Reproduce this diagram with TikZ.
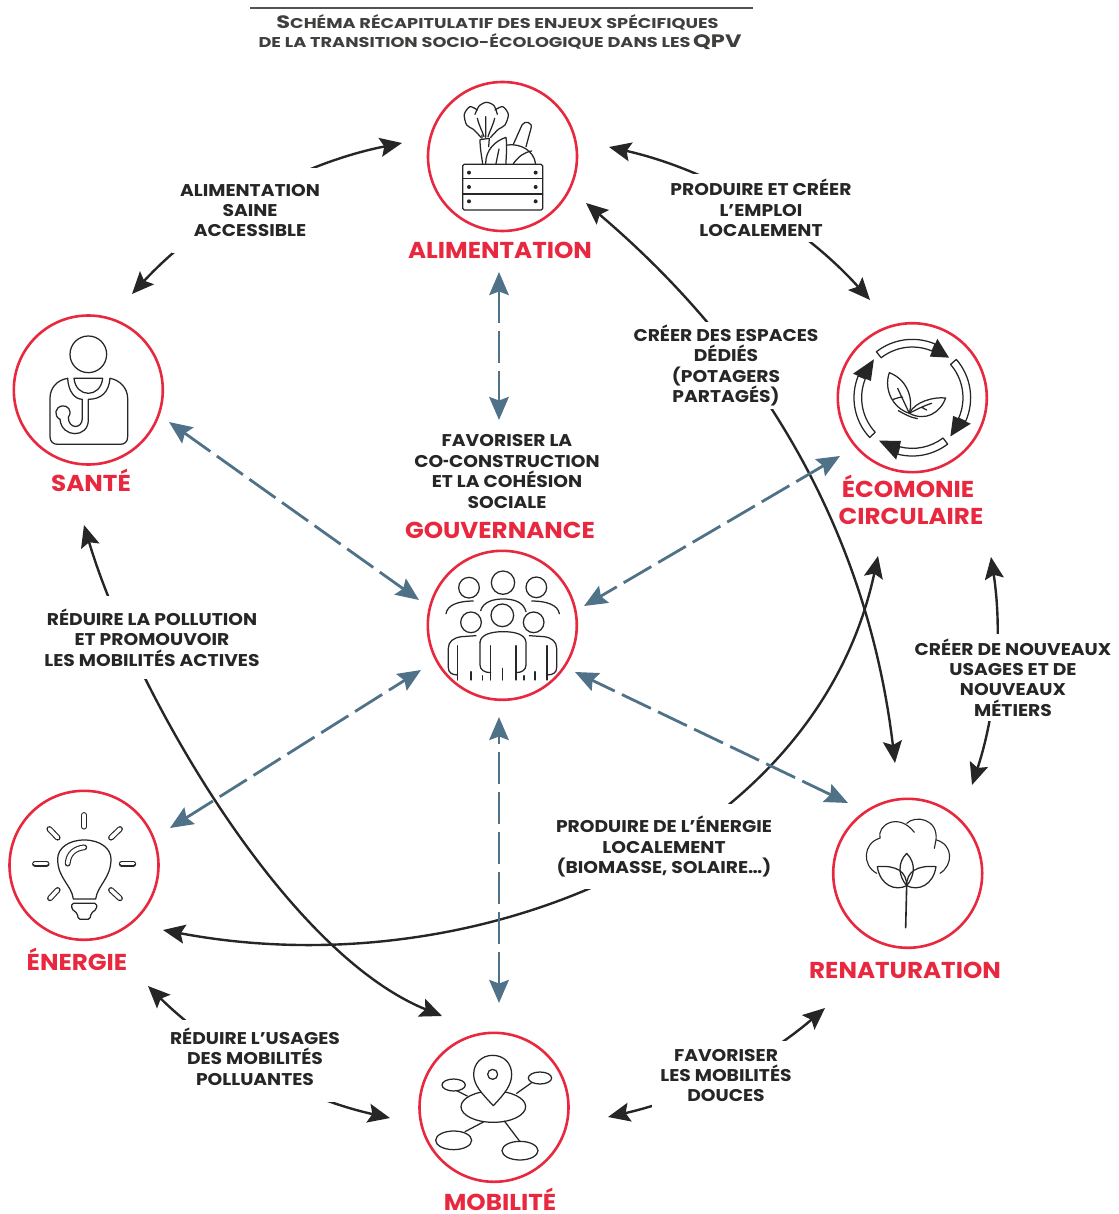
\documentclass[tikz,border=0pt]{standalone}
\usepackage{fontspec}
\setmainfont{Poppins}[FakeStretch=1.07]
\newfontfamily\titlefont{Poppins}[FakeStretch=1.25]
\newfontfamily\labfont{Poppins}[FakeStretch=1.10]
\usetikzlibrary{arrows.meta,calc}
\definecolor{ringred}{HTML}{E8283F}
\definecolor{inkc}{HTML}{262626}
\definecolor{bluec}{HTML}{4F7288}
\definecolor{titlec}{HTML}{3F3F3E}
\tikzset{
  ring/.style={circle,draw=ringred,line width=2.6pt,minimum size=149pt,inner sep=0pt,fill=white},
  lab/.style={align=center,text=inkc,fill=white,inner xsep=8pt,inner ysep=12pt,font=\labfont\bfseries\fontsize{17}{20.4}\selectfont},
  headlab/.style={text=ringred,align=center,inner sep=0pt,anchor=base,font=\bfseries\fontsize{23}{27}\selectfont},
  titlet/.style={text=titlec,inner sep=0pt,anchor=base,font=\titlefont\bfseries},
  blk/.style={draw=inkc,line width=2.4pt,{Stealth[length=22pt,width=19pt,inset=4pt]}-{Stealth[length=22pt,width=19pt,inset=4pt]}},
  bluedash/.style={draw=bluec,line width=2.8pt,dash pattern=on 32pt off 8pt,{Stealth[length=23pt,width=19.5pt,inset=3.5pt]}-{Stealth[length=23pt,width=19.5pt,inset=3.5pt]}},
  arcb/.style={bend left=#1,looseness=.87},
  ico/.style={draw=inkc,line width=1.25pt,line join=round,line cap=round},
  capsule/.style={ico,double=white,double distance=3.6pt,line width=1.1pt}
}
\newcommand{\ST}[1]{{\fontsize{18}{20}\selectfont #1}}
\newcommand{\TT}[1]{{\fontsize{14.2}{20}\selectfont #1}}
\newcommand{\shorthy}{\scalebox{.55}[1]{-}}
\newcommand{\ecoarrow}[3]{%
  \draw[ico,fill=white] (#1:152) arc[start angle=#1,end angle=#2,radius=152] -- (#2:175) arc[start angle=#2,end angle=#1,radius=175] -- cycle;
  \fill[inkc] (#2:134) -- (#2:192) -- (#3:163) -- cycle;
}
\begin{document}
\begin{tikzpicture}[x=1pt,y=-1pt]
\useasboundingbox (0,0) rectangle (1118,1214);
% circles (drawn first so anchors exist)
\node[ring] (alim) at (502.5,156.5) {};
\node[ring] (sante) at (88.3,390) {};
\node[ring] (eco) at (912.3,397.7) {};
\node[ring] (gouv) at (502.3,625.3) {};
\node[ring] (ener) at (84,865.3) {};
\node[ring] (renat) at (907.7,873.3) {};
\node[ring] (mob) at (494,1107.3) {};
% ring arcs
\draw[blk] ($(sante)+(43.7,-96)$) to[arcb=18] ($(alim)+(-100.5,-13.5)$);
\draw[blk] ($(alim)+(106.5,-9.5)$) to[arcb=17.7] ($(eco)+(-42.3,-97.7)$);
\draw[blk] ($(eco)+(78.7,159.3)$) to[arcb=13.5] ($(renat)+(64.3,-88.3)$);
\draw[blk] ($(renat)+(-82.7,134.7)$) to[arcb=14] ($(mob)+(114,9.7)$);
\draw[blk] ($(mob)+(-104,10.7)$) to[arcb=16] ($(ener)+(64,120.7)$);
% long curves
\draw[blk] ($(alim)+(83.5,46.5)$) .. controls (700,300) and (860,470) .. ($(renat)+(-12.7,-110.3)$);
\draw[blk] ($(sante)+(-4.3,135)$) .. controls (130,680) and (280,950) .. ($(mob)+(-52,-91.3)$);
\draw[blk] ($(eco)+(-34.3,158.3)$) .. controls (815,850) and (470,988) .. ($(ener)+(79,64.7)$);
% dashed
\draw[bluedash] ($(alim)+(-3.5,115.5)$) -- ($(gouv)+(-3.3,-205.3)$);
\draw[bluedash] ($(sante)+(80.7,32)$) -- ($(gouv)+(-83.3,-25.3)$);
\draw[bluedash] ($(eco)+(-72.3,58.3)$) -- ($(gouv)+(81.7,-19.3)$);
\draw[bluedash] ($(ener)+(86,-37.3)$) -- ($(gouv)+(-81.3,44.7)$);
\draw[bluedash] ($(renat)+(-59.7,-70.3)$) -- ($(gouv)+(72.7,46.7)$);
\draw[bluedash] ($(mob)+(5,-104.3)$) -- ($(gouv)+(-3.3,91.7)$);
% title
\draw[titlec!90!white,line width=2.8pt] (250,8) -- (753,8);
\node[titlet] (t1) at (497.5,28.5) {\ST{S}\TT{CHÉMA RÉCAPITULATIF DES ENJEUX SPÉCIFIQUES}};
\node[titlet] (t2) at (500,47.5) {\TT{DE LA TRANSITION SOCIO-ÉCOLOGIQUE DANS LES} \ST{QPV}};
% labels
\node[lab,inner ysep=16pt] (l1) at (250,210.5) {ALIMENTATION\\SAINE\\ACCESSIBLE};
\node[lab,inner ysep=5pt] (l2) at (761,208) {PRODUIRE ET CRÉER\\L’EMPLOI\\LOCALEMENT};
\node[lab,inner ysep=3pt] (l3) at (726,365.5) {CRÉER DES ESPACES\\DÉDIÉS\\(POTAGERS\\PARTAGÉS)};
\node[lab,fill=none,inner ysep=3pt] (l4) at (507,471.5) {FAVORISER LA\\CO\shorthy CONSTRUCTION\\ET LA COHÉSION\\SOCIALE};
\node[lab,inner ysep=5pt] (l5) at (1013,677.5) {CRÉER DE NOUVEAUX\\USAGES ET DE\\NOUVEAUX\\MÉTIERS};
\node[lab,inner ysep=13pt] (l6) at (152,637.5) {RÉDUIRE LA POLLUTION\\ET PROMOUVOIR\\LES MOBILITÉS ACTIVES};
\node[lab] (l7) at (664,846.5) {PRODUIRE DE L’ÉNERGIE\\LOCALEMENT\\(BIOMASSE, SOLAIRE…)};
\node[lab,inner ysep=8pt] (l8) at (255,1061) {RÉDUIRE L’USAGES\\DES MOBILITÉS\\POLLUANTES\rule[-9pt]{0pt}{9pt}};
\node[lab,inner ysep=8pt] (l9) at (726,1075.5) {FAVORISER\\LES MOBILITÉS\\DOUCES};
% heads
\node[headlab] (h1) at (500,259) {ALIMENTATION};
\node[headlab] (h2) at (91,491) {SANTÉ};
\node[headlab] (h3a) at (908,497) {ÉCOMONIE};
\node[headlab] (h3b) at (911,524) {CIRCULAIRE};
\node[headlab] (h4) at (500,538) {GOUVERNANCE};
\node[headlab] (h5) at (77,970) {ÉNERGIE};
\node[headlab] (h6) at (905,978) {RENATURATION};
\node[headlab] (h7) at (500,1210) {MOBILITÉ};
% --- icon: alimentation
\begin{scope}[shift={(420,75)},x=.3333pt,y=-.3333pt]
\draw[ico,rounded corners=1.5pt] (128,268) rectangle (368,405);
\draw[ico] (128,311) -- (368,311) (128,357) -- (368,357);
\foreach \yy in {293,336,379}{\fill[inkc] (147,\yy) circle (6) (347,\yy) circle (6);}
\draw[ico] plot[smooth] coordinates {(183,187) (160,163) (140,150) (133,118) (150,95) (172,105)};
\draw[ico] plot[smooth] coordinates {(165,118) (178,92) (200,82) (222,92) (232,118)};
\draw[ico] plot[smooth] coordinates {(225,105) (248,95) (265,118) (255,150) (235,163) (212,187)};
\draw[ico] (197,125) -- (197,187) (172,130) .. controls (178,155) and (188,170) .. (192,185) (224,130) .. controls (218,155) and (208,170) .. (204,185);
\draw[ico] (180,194) -- (208,190) (180,194) .. controls (180,220) and (185,245) .. (188,266) (208,190) -- (206,215);
\draw[ico] (197,266) .. controls (197,225) and (225,198) .. (258,187) .. controls (262,220) and (258,245) .. (258,266);
\draw[ico] (237,222) -- (228,266) (186,180) -- (186,190);
\draw[ico] (280,208) -- (306,150) .. controls (313,135) and (340,142) .. (333,160) -- (318,215);
\draw[ico] (262,210) .. controls (300,205) and (342,225) .. (347,268);
\draw[ico] (280,266) .. controls (295,245) and (312,232) .. (335,228);
\end{scope}
% --- icon: sante
\begin{scope}[shift={(5,310)},x=.3333pt,y=-.3333pt]
\draw[ico] (250,133) circle (55);
\draw[ico] (188,205) .. controls (155,210) and (135,235) .. (135,265) -- (135,380) .. controls (135,395) and (145,403) .. (158,403) -- (345,403) .. controls (360,403) and (368,395) .. (368,380) -- (368,265) .. controls (368,235) and (345,210) .. (315,205);
\draw[ico] (207,205) -- (293,205) .. controls (290,235) and (270,250) .. (250,250) .. controls (230,250) and (210,235) .. (207,205);
\draw[ico] (188,205) .. controls (190,245) and (210,268) .. (232,268) -- (232,325) .. controls (232,358) and (190,358) .. (190,322);
\draw[ico] (315,205) .. controls (312,245) and (290,268) .. (250,268) -- (250,330) .. controls (250,385) and (170,385) .. (165,328);
\draw[ico] (190,322) .. controls (205,300) and (185,285) .. (172,288) .. controls (150,290) and (145,318) .. (165,328);
\end{scope}
% --- icon: economie
\begin{scope}[shift={(912.3,397.7)},x=.3333pt,y=.3333pt]
\ecoarrow{128}{67}{47.5}
\ecoarrow{41}{-24}{-45.5}
\ecoarrow{-52.7}{-104.6}{-127.8}
\ecoarrow{223}{158}{135}
\end{scope}
\begin{scope}[shift={(830,320)},x=.3333pt,y=-.3333pt]
\draw[ico] (178,158) .. controls (160,210) and (190,265) .. (238,280) .. controls (250,240) and (235,180) .. (178,158);
\draw[ico] (238,280) .. controls (255,245) and (310,230) .. (347,234) .. controls (330,280) and (285,305) .. (238,280);
\draw[ico] (203,205) -- (238,280) (190,238) .. controls (198,236) and (210,230) .. (218,232);
\draw[ico] (238,280) .. controls (260,268) and (280,258) .. (305,250) (275,262) -- (290,270);
\draw[ico] (205,272) .. controls (222,282) and (240,292) .. (262,296);
\end{scope}
% --- icon: gouvernance
\begin{scope}[shift={(420,545)},x=.3333pt,y=-.3333pt]
\draw[ico] (147,128) circle (31) (249,113) circle (35) (349,127) circle (31) (247,211) circle (34) (153,232) circle (31) (341,232) circle (31);
\draw[ico] (78,206) .. controls (82,180) and (115,168) .. (160,168);
\draw[ico] (418,206) .. controls (414,180) and (380,168) .. (335,168);
\draw[ico] (182,197) .. controls (190,170) and (220,162) .. (250,162) .. controls (280,162) and (310,170) .. (318,200);
\draw[ico] (168,272) -- (125,275) .. controls (100,278) and (85,290) .. (85,310) -- (85,368) .. controls (85,382) and (95,390) .. (113,390);
\draw[ico] (328,272) -- (372,275) .. controls (395,278) and (410,290) .. (410,310) -- (410,368) .. controls (410,382) and (400,390) .. (381,390);
\draw[ico] (180,292) .. controls (182,268) and (215,260) .. (250,260) .. controls (285,260) and (316,268) .. (318,292) -- (318,360) .. controls (318,375) and (305,383) .. (288,383);
\draw[ico] (180,292) -- (180,360) .. controls (180,375) and (195,383) .. (212,383);
\draw[ico] (113,302) -- (113,405) (381,302) -- (381,405) (212,302) -- (212,405) (288,302) -- (288,405) (153,380) -- (153,405) (188,392) -- (188,405) (248,370) -- (248,405) (312,392) -- (312,405) (345,380) -- (345,405);
\end{scope}
% --- icon: energie
\begin{scope}[shift={(5,785)},x=.3333pt,y=-.3333pt]
\draw[ico] (205,342) -- (272,342) .. controls (278,300) and (318,280) .. (318,222) .. controls (318,190) and (285,165) .. (238,165) .. controls (190,165) and (158,190) .. (158,222) .. controls (158,280) and (200,300) .. (205,342);
\draw[capsule,line cap=round] (188,236) .. controls (190,205) and (210,190) .. (238,187);
\foreach \a/\b/\c/\d in {237/90/237/125,133/132/158/158,345/132/318/158,90/236/125/236,350/236/385/236,135/340/158/315,345/340/318/315}{\draw[capsule,line cap=round] (\a,\b) -- (\c,\d);}
\draw[ico,rounded corners=1.8pt] (200,355) -- (275,355) -- (275,372) -- (258,385) -- (255,403) -- (220,403) -- (217,385) -- (200,372) -- cycle;
\end{scope}
% --- icon: renaturation
\begin{scope}[shift={(825,795)},x=.3333pt,y=-.3333pt]
\draw[ico,line width=1.1pt] (165,130) .. controls (155,90) and (220,50) .. (268,112);
\draw[ico,line width=1.1pt] (245,85) .. controls (270,60) and (340,70) .. (333,135) -- (328,160);
\draw[ico,line width=1.1pt] (163,130) .. controls (115,145) and (110,210) .. (155,235);
\draw[ico,line width=1.1pt] (335,135) .. controls (385,150) and (385,210) .. (345,235);
\draw[ico] (157,215) .. controls (215,210) and (245,230) .. (245,272) .. controls (210,290) and (165,270) .. (157,215);
\draw[ico] (333,215) .. controls (275,210) and (245,230) .. (245,272) .. controls (280,290) and (325,270) .. (333,215);
\draw[ico] (245,175) .. controls (215,205) and (222,245) .. (245,272) .. controls (268,245) and (275,205) .. (245,175);
\draw[ico,line width=1.6pt] (245,272) -- (242,398);
\end{scope}
% --- icon: mobilite
\begin{scope}[shift={(410,1030)},x=.3333pt,y=-.3333pt]
\draw[ico] (250,230) ellipse (97 and 47);
\draw[ico] (131,165) ellipse (35 and 18) (390,144) ellipse (35 and 18) (131,331) ellipse (54 and 28) (330,362) ellipse (54 and 28);
\draw[ico] (140,182) -- (172,198) (320,190) -- (365,158) (165,305) -- (220,276) (283,273) -- (330,335);
\draw[ico,fill=white] (250,227) .. controls (215,190) and (191,165) .. (191,133) .. controls (191,100) and (215,76) .. (248,76) .. controls (282,76) and (305,100) .. (305,133) .. controls (305,165) and (285,190) .. (250,227);
\draw[ico] (248,133) circle (15);
\end{scope}
\end{tikzpicture}
\end{document}
